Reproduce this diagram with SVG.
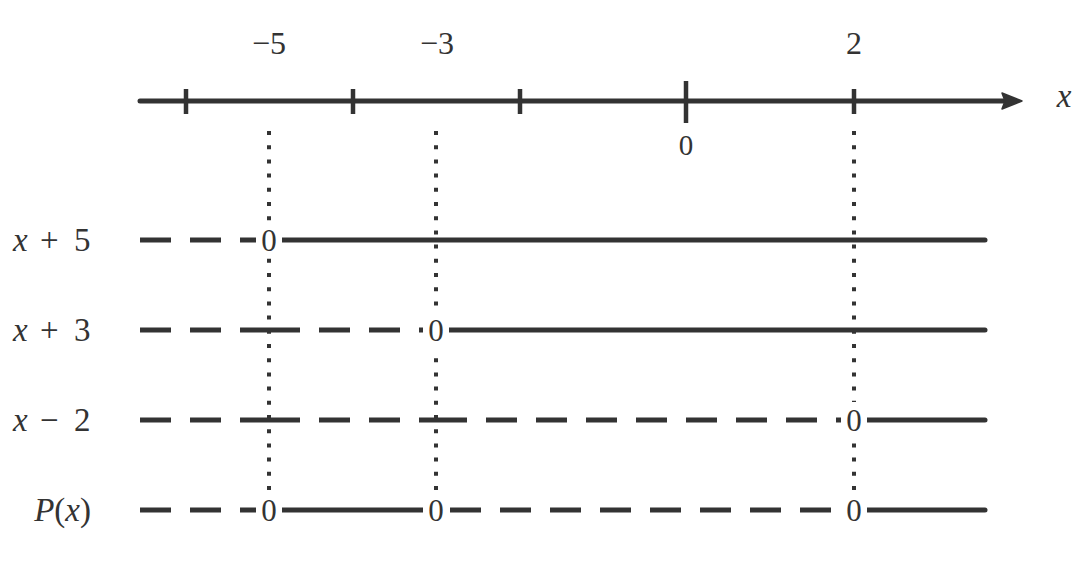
<svg xmlns="http://www.w3.org/2000/svg" width="1088" height="567" viewBox="0 0 1088 567">
<defs>
<style>
  .ln{stroke:#333;stroke-width:5;fill:none}
  .dash{stroke-dasharray:31 19}
  .end{stroke-linecap:round}
  .tick{stroke:#333;stroke-width:4.5}
  .dot{stroke:#333;stroke-width:4;stroke-dasharray:4 10.2;fill:none}
  .i{font-style:italic}
  .box{fill:#fff}
</style>
</defs>
<rect width="1088" height="567" fill="#fff"/>

<g id="axis" font-family="Liberation Serif, DejaVu Serif, serif" fill="#333">
  <line class="ln" x1="140" y1="101" x2="1006" y2="101" stroke-linecap="round"/>
  <path d="M1022,101 L1002,93 L1005,101 L1002,109 Z" fill="#333" stroke="#333" stroke-width="1.5" stroke-linejoin="round"/>
  <line class="tick" x1="186" y1="89" x2="186" y2="114"/>
  <line class="tick" x1="353" y1="89" x2="353" y2="114"/>
  <line class="tick" x1="520" y1="89" x2="520" y2="114"/>
  <line class="tick" x1="686" y1="81" x2="686" y2="123"/>
  <line class="tick" x1="854" y1="89" x2="854" y2="114"/>
  <text x="269" y="54" font-size="32" text-anchor="middle">−5</text>
  <text x="437" y="54" font-size="32" text-anchor="middle">−3</text>
  <text x="854" y="54" font-size="32" text-anchor="middle">2</text>
  <text x="686" y="155" font-size="29" text-anchor="middle">0</text>
  <text class="i" x="1064" y="107" font-size="33" text-anchor="middle">x</text>
</g>

<g id="connectors">
  <line class="dot" x1="269" y1="131" x2="269" y2="500"/>
  <line class="dot" x1="436" y1="131" x2="436" y2="500"/>
  <line class="dot" x1="854" y1="131" x2="854" y2="500"/>
</g>

<g id="row-x-plus-5" font-family="Liberation Serif, DejaVu Serif, serif" fill="#333">
  <text y="251" font-size="33"><tspan class="i" x="13">x</tspan><tspan x="40">+</tspan><tspan x="74">5</tspan></text>
  <line class="ln dash" x1="140" y1="240" x2="269" y2="240"/>
  <line class="ln end" x1="269" y1="240" x2="985" y2="240"/>
  <rect class="box" x="256" y="222" width="26" height="36"/>
  <text x="269" y="251" font-size="31" text-anchor="middle">0</text>
</g>

<g id="row-x-plus-3" font-family="Liberation Serif, DejaVu Serif, serif" fill="#333">
  <text y="341" font-size="33"><tspan class="i" x="13">x</tspan><tspan x="40">+</tspan><tspan x="74">3</tspan></text>
  <line class="ln dash" x1="140" y1="330" x2="269" y2="330"/>
  <line class="ln dash" x1="269" y1="330" x2="436" y2="330"/>
  <line class="ln end" x1="436" y1="330" x2="985" y2="330"/>
  <rect class="box" x="423" y="312" width="26" height="36"/>
  <text x="436" y="341" font-size="31" text-anchor="middle">0</text>
</g>

<g id="row-x-minus-2" font-family="Liberation Serif, DejaVu Serif, serif" fill="#333">
  <text y="431" font-size="33"><tspan class="i" x="13">x</tspan><tspan x="40">−</tspan><tspan x="74">2</tspan></text>
  <line class="ln dash" x1="140" y1="420" x2="269" y2="420"/>
  <line class="ln dash" x1="269" y1="420" x2="436" y2="420"/>
  <line class="ln dash" x1="436" y1="420" x2="854" y2="420"/>
  <line class="ln end" x1="854" y1="420" x2="985" y2="420"/>
  <rect class="box" x="841" y="402" width="26" height="36"/>
  <text x="854" y="431" font-size="31" text-anchor="middle">0</text>
</g>

<g id="row-P" font-family="Liberation Serif, DejaVu Serif, serif" fill="#333">
  <text x="91" y="521" font-size="33" text-anchor="end"><tspan class="i">P</tspan>(<tspan class="i">x</tspan>)</text>
  <line class="ln dash" x1="140" y1="510" x2="269" y2="510"/>
  <line class="ln" x1="269" y1="510" x2="436" y2="510"/>
  <line class="ln dash" x1="450" y1="510" x2="854" y2="510"/>
  <line class="ln end" x1="854" y1="510" x2="985" y2="510"/>
  <rect class="box" x="256" y="492" width="26" height="36"/>
  <rect class="box" x="423" y="492" width="26" height="36"/>
  <rect class="box" x="841" y="492" width="26" height="36"/>
  <text x="269" y="521" font-size="31" text-anchor="middle">0</text>
  <text x="436" y="521" font-size="31" text-anchor="middle">0</text>
  <text x="854" y="521" font-size="31" text-anchor="middle">0</text>
</g>
</svg>
